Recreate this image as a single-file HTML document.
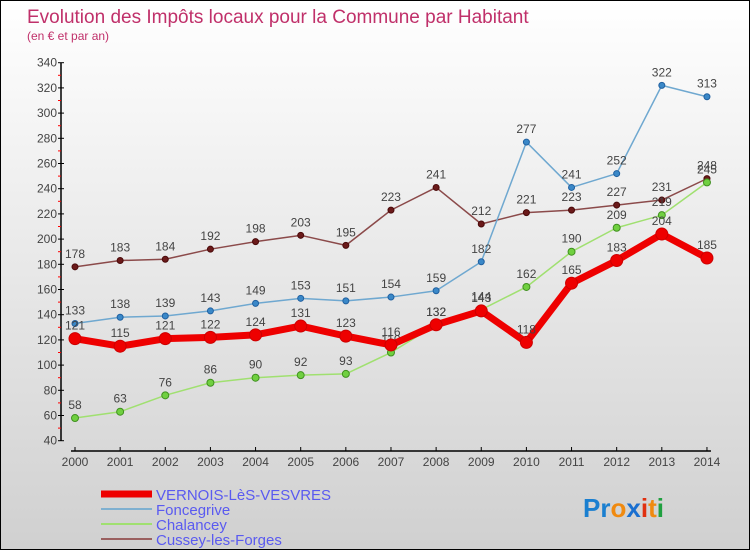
<!DOCTYPE html>
<html><head><meta charset="utf-8"><style>
body{margin:0;}
#wrap{width:748px;height:548px;border:1px solid #000;background:linear-gradient(#ffffff,#d0d0d0);position:relative;overflow:hidden;font-family:"Liberation Sans",sans-serif;}
svg text{font-family:"Liberation Sans",sans-serif;}
</style></head><body>
<div id="wrap">
<svg id="chart" width="748" height="548"></svg>
</div>
<script>
const years=["2000","2001","2002","2003","2004","2005","2006","2007","2008","2009","2010","2011","2012","2013","2014"];
const vernois=[121,115,121,122,124,131,123,116,132,143,118,165,183,204,185];
const foncegrive=[133,138,139,143,149,153,151,154,159,182,277,241,252,322,313];
const chalancey=[58,63,76,86,90,92,93,110,132,144,162,190,209,219,245];
const cussey=[178,183,184,192,198,203,195,223,241,212,221,223,227,231,248];
const yTicks=[40,60,80,100,120,140,160,180,200,220,240,260,280,300,320,340];
const NS="http://www.w3.org/2000/svg";
const svg=document.getElementById('chart');
function X(i){return 74+i*45.14;}
function Y(v){return 439.7-(v-40)*1.26;}
function mk(t,a,p){const e=document.createElementNS(NS,t);for(const k in a)e.setAttribute(k,a[k]);(p||svg).appendChild(e);return e;}
let t=mk('text',{x:26,y:22,'font-size':19,fill:'#c0306a'});t.textContent='Evolution des Impôts locaux pour la Commune par Habitant';

t=mk('text',{x:26,y:39,'font-size':12,fill:'#c0306a'});t.textContent='(en € et par an)';

// y axis
let ax=mk('line',{x1:60,y1:Y(340),x2:60,y2:Y(40),stroke:'#000','stroke-width':1.5});

yTicks.forEach((v,i)=>{
 mk('line',{x1:57,x2:63,y1:Y(v),y2:Y(v),stroke:'#000'});
 if(i<yTicks.length-1) mk('line',{x1:57,x2:60,y1:Y(v+10),y2:Y(v+10),stroke:'#f00'});
 const l=mk('text',{x:56,y:Y(v)+4,'font-size':12,fill:'#444','text-anchor':'end'});l.textContent=v;
 
});
ax=mk('line',{x1:X(0)-4,x2:X(14)+4,y1:450,y2:450,stroke:'#000','stroke-width':1.5});

years.forEach((y,i)=>{
 mk('line',{x1:X(i),x2:X(i),y1:446,y2:450,stroke:'#000'});
 const l=mk('text',{x:X(i),y:465,'font-size':12,fill:'#444','text-anchor':'middle'});l.textContent=y;
 
});
function series(data,color,w,dot,dotStroke,r,name){
 const g=mk('g',{});
 const pts=data.map((v,i)=>X(i)+','+Y(v)).join(' ');
 mk('polyline',{points:pts,fill:'none',stroke:color,'stroke-width':w,'stroke-linejoin':'round'},g);
 data.forEach((v,i)=>{
  const c=mk('circle',{cx:X(i),cy:Y(v),r:r,fill:dot,stroke:dotStroke,'stroke-width':1},g);
  
  const l=mk('text',{x:X(i),y:Y(v)-9,'font-size':12,fill:'#444','text-anchor':'middle'},g);l.textContent=v;
 });
}
series(cussey,'#8b4a4a',1.5,'#6b1a1a','#4a0a0a',3,'cussey-series');
series(foncegrive,'#6fa8d0',1.5,'#3a88c8','#2060a0',3,'foncegrive-series');
series(chalancey,'#a0e070',1.5,'#70d040','#409020',3.5,'chalancey-series');
series(vernois,'#ee0000',7,'#ee0000','#cc0000',6,'vernois-series');
// legend
const leg=[['VERNOIS-LèS-VESVRES','#ee0000',7],['Foncegrive','#7fb0d0',2],['Chalancey','#a0e070',2],['Cussey-les-Forges','#9a6060',2]];
leg.forEach((e,i)=>{
 const g=mk('g',{});
 const yy=493+i*15;
 mk('line',{x1:100,x2:151,y1:yy,y2:yy,stroke:e[1],'stroke-width':e[2]},g);
 const l=mk('text',{x:155,y:yy+6,'font-size':15,fill:'#5a5af0'},g);l.textContent=e[0];
});
const pg=mk('text',{x:582,y:516,'font-size':26,'font-weight':'bold'});

[['Pr','#1a7fd0'],['o','#f08a10'],['x','#1a6fd0'],['i','#e03010'],['t','#f08a10'],['i','#20a040']].forEach(p=>{const s=mk('tspan',{fill:p[1]},pg);s.textContent=p[0];});
</script>
</body></html>
